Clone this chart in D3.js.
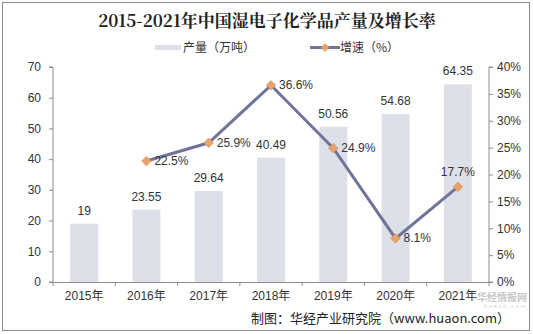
<!DOCTYPE html>
<html><head><meta charset="utf-8">
<script src="https://cdn.jsdelivr.net/npm/d3@7"></script>
<style>
body{margin:0;background:#fff;}
svg{display:block;font-family:"Liberation Sans",Arial,sans-serif;}
</style></head><body>
<svg id="c" width="533" height="334"></svg>
<script>
const categories = ["2015年","2016年","2017年","2018年","2019年","2020年","2021年"];
const production = [19,23.55,29.64,40.49,50.56,54.68,64.35];
const growth = [null,22.5,25.9,36.6,24.9,8.1,17.7];
const leftTicks = [0,10,20,30,40,50,60,70];
const rightTicks = [0,5,10,15,20,25,30,35,40];

const svg = d3.select("#c");
const L=53, R=489, T=67, B=282;
svg.append("rect").attr("x",2.5).attr("y",2.5).attr("width",527).attr("height",328)
  .attr("fill","#fff").attr("stroke","#8c8c8c").attr("stroke-width",1);

const x = d3.scaleBand().domain(categories).range([L,R]).paddingInner(0.55).paddingOuter(0.275);
const xb = d3.scaleBand().domain(categories).range([L,R]);
const y = d3.scaleLinear().domain([0,70]).range([B,T]);
const y2 = d3.scaleLinear().domain([0,40]).range([B,T]);

svg.append("text").attr("x",267).attr("y",27).attr("text-anchor","middle")
  .attr("font-family","'Noto Serif CJK SC','Noto Sans CJK SC',serif").attr("font-weight","bold")
  .attr("font-size",17).attr("fill","#222").text("2015-2021年中国湿电子化学品产量及增长率");

// legend
svg.append("rect").attr("x",155).attr("y",45).attr("width",26).attr("height",5).attr("fill","#dde0e8");
svg.append("text").attr("x",183).attr("y",52).attr("font-family","'Noto Sans CJK SC',sans-serif")
  .attr("font-size",12).attr("fill","#333").text("产量（万吨）");
svg.append("line").attr("x1",310).attr("x2",340).attr("y1",47.5).attr("y2",47.5).attr("stroke","#6f7599").attr("stroke-width",3);
svg.append("path").attr("d",d3.symbol(d3.symbolDiamond2,40)()).attr("transform","translate(325,47.5)")
  .attr("fill","#e8a26a").attr("stroke","#c98a55").attr("stroke-width",0.5);
svg.append("text").attr("x",340).attr("y",52).attr("font-family","'Noto Sans CJK SC',sans-serif")
  .attr("font-size",12).attr("fill","#333").text("增速（%）");

// bars
svg.selectAll("rect.bar").data(production).join("rect").attr("class","bar")
  .attr("x",(d,i)=>x(categories[i])).attr("width",x.bandwidth())
  .attr("y",d=>y(d)).attr("height",d=>B-y(d)).attr("fill","#dde0e8");
svg.selectAll("text.bl").data(production).join("text").attr("class","bl")
  .attr("x",(d,i)=>x(categories[i])+x.bandwidth()/2).attr("y",d=>y(d)-9)
  .attr("text-anchor","middle").attr("font-size",12).attr("fill","#333").text(d=>d);

// axes
const gl = svg.append("g").attr("transform",`translate(${L},0)`)
  .call(d3.axisLeft(y).tickValues(leftTicks).tickSize(4).tickPadding(8));
const gr = svg.append("g").attr("transform",`translate(${R},0)`)
  .call(d3.axisRight(y2).tickValues(rightTicks).tickSize(4).tickPadding(4).tickFormat(d=>d+"%"));
const gx = svg.append("g").attr("transform",`translate(0,${B})`)
  .call(d3.axisBottom(xb).tickSize(0).tickPadding(9));
[gl,gr,gx].forEach(g=>{
  g.selectAll("path.domain").attr("stroke","#8c8c8c");
  g.selectAll(".tick line").attr("stroke","#8c8c8c");
  g.selectAll("text").attr("font-size",12).attr("fill","#333").attr("font-family","'Liberation Sans','Noto Sans CJK SC',sans-serif");
});
gr.select("path.domain").attr("d",`M4,${T}H0V${B}H4`);
gl.select("path.domain").attr("d",`M-4,${T}H0V${B}H-4`);
svg.append("g").selectAll("line").data(d3.range(categories.length+1)).join("line")
  .attr("x1",i=>L+i*xb.step()).attr("x2",i=>L+i*xb.step()).attr("y1",B).attr("y2",B+4).attr("stroke","#8c8c8c");

// line
const pts = growth.map((g,i)=>({g,i})).filter(d=>d.g!==null);
const cx = i=>xb(categories[i])+xb.bandwidth()/2;
svg.append("path").datum(pts)
  .attr("d",d3.line().x(d=>cx(d.i)).y(d=>y2(d.g)))
  .attr("fill","none").attr("stroke","#6f7599").attr("stroke-width",3);
svg.selectAll("path.mk").data(pts).join("path").attr("class","mk")
  .attr("d",d3.symbol(d3.symbolDiamond2,60)())
  .attr("transform",d=>`translate(${cx(d.i)},${y2(d.g)})`)
  .attr("fill","#e8a26a").attr("stroke","#c98a55").attr("stroke-width",0.5);
svg.selectAll("text.gl").data(pts).join("text").attr("class","gl")
  .attr("x",d=>cx(d.i)+(d.i===6?0:8)).attr("y",d=>y2(d.g)+(d.i===6?-11:4))
  .attr("text-anchor",d=>d.i===6?"middle":"start")
  .attr("font-size",12).attr("fill","#333").text(d=>d.g.toFixed(1)+"%");

// watermark (shrunk to sit clear of tick labels)
svg.append("text").attr("x",527).attr("y",301).attr("text-anchor","end")
  .attr("font-family","'Noto Sans CJK SC',sans-serif").attr("font-weight","bold")
  .attr("font-size",10).attr("fill","#c8c8c8").text("华经情报网");
svg.append("text").attr("x",527).attr("y",308).attr("text-anchor","end")
  .attr("font-size",6).attr("fill","#d0d0d0").attr("letter-spacing",1.5).text("huaon.com");

// source
svg.append("text").attr("x",510).attr("y",323).attr("text-anchor","end")
  .attr("font-family","'Noto Sans CJK SC',sans-serif").attr("font-size",13).attr("fill","#222")
  .text("制图：华经产业研究院（www.huaon.com）");
</script></body></html>
